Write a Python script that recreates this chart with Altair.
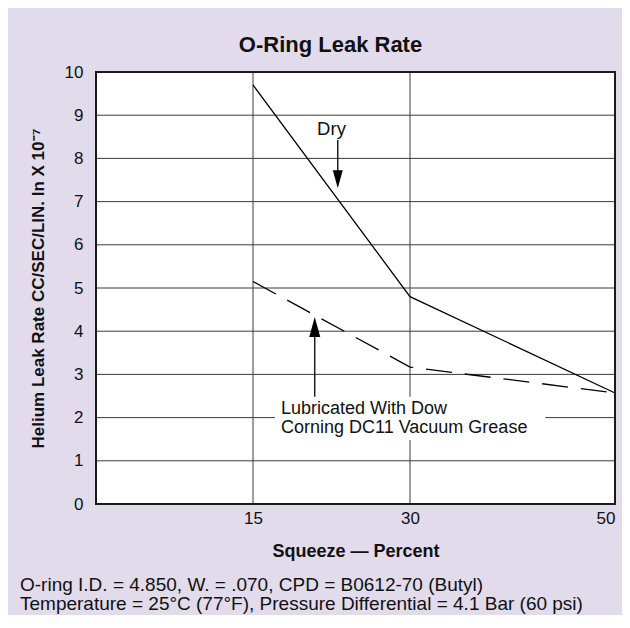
import altair as alt
import pandas as pd

# ---- data ----
squeeze = [15, 30, 50]
dry = [9.7, 4.8, 2.57]
lubricated = [5.15, 3.17, 2.57]

y_ticks = list(range(0, 11))
x_ticks = [15, 30, 50]
y_grid = list(range(1, 10))
x_grid = [15, 30]

dry_label = ["Dry"]
dry_label_x = [22.5]
dry_label_y = [8.68]
dry_arrow_x = [23.1]
dry_arrow_from = [8.43]
dry_arrow_to = [7.6]
dry_head_y = [7.52]

lub_lines = ["Lubricated With Dow", "Corning DC11 Vacuum Grease"]
lub_label_x = [17.67, 17.67]
lub_label_y = [2.20, 1.76]
lub_box_x = [17.1]
lub_box_x2 = [43.2]
lub_box_y = [1.48]
lub_box_y2 = [2.48]
lub_arrow_x = [20.9]
lub_arrow_from = [2.48]
lub_arrow_to = [4.0]
lub_head_y = [4.10]

title_text = "O-Ring Leak Rate"
x_title = "Squeeze \u2014 Percent"
y_title = "Helium Leak Rate CC/SEC/LIN. In X 10\u207b\u2077"
foot1 = "O-ring I.D. = 4.850, W. = .070, CPD = B0612-70 (Butyl)"
foot2 = "Temperature = 25\u00b0C (77\u00b0F), Pressure Differential = 4.1 Bar (60 psi)"

# ---- layout ----
W, H = 519, 432
PAD_L, PAD_T, PAD_R, PAD_B = 88, 64, 7, 111
FONT = "Liberation Sans"
INK = "#111111"
PANEL = "#e1dbec"

x_scale = alt.Scale(type="linear", domain=[0, 15, 30, 50], range=[0, 157, 314, 519], nice=False, zero=False)
y_scale = alt.Scale(type="linear", domain=[0, 10], nice=False, zero=False)

x_axis = alt.Axis(
    values=x_ticks, title=x_title, titleFontSize=18, titleFontWeight="bold", titleColor=INK,
    titleY=47, titleBaseline="middle", labelFontSize=17, labelColor=INK, labelPadding=6,
    labelFlush=True, labelOverlap=False, domain=False, ticks=False, grid=False, zindex=1,
)
y_axis = alt.Axis(
    values=y_ticks, title=y_title, titleFontSize=17, titleFontWeight="bold", titleColor=INK,
    titleAngle=270, titleBaseline="middle", titleAlign="center", titleX=-58, titleY=H / 2,
    labelFontSize=17, labelColor=INK, labelPadding=13, labelOverlap=False,
    domain=False, ticks=False, grid=False, zindex=1,
)

one = pd.DataFrame({"k": [0]})

plot_bg = alt.Chart(one).mark_rect(color="white").encode(
    x=alt.value(0), x2=alt.value(W), y=alt.value(0), y2=alt.value(H)
)
border = alt.Chart(one).mark_rect(fill="white", fillOpacity=0, stroke="#1a1a1a", strokeWidth=2).encode(
    x=alt.value(0), x2=alt.value(W), y=alt.value(0), y2=alt.value(H)
)

hgrid = alt.Chart(pd.DataFrame({"v": y_grid})).mark_rule(color="#3a3a3a", strokeWidth=1).encode(
    y=alt.Y("v:Q", scale=y_scale, axis=y_axis)
)
vgrid = alt.Chart(pd.DataFrame({"v": x_grid})).mark_rule(color="#3a3a3a", strokeWidth=1).encode(
    x=alt.X("v:Q", scale=x_scale, axis=x_axis)
)

box = alt.Chart(pd.DataFrame({"x": lub_box_x, "x2": lub_box_x2, "y": lub_box_y, "y2": lub_box_y2})).mark_rect(
    color="white"
).encode(
    x=alt.X("x:Q", scale=x_scale, axis=x_axis), x2="x2:Q",
    y=alt.Y("y:Q", scale=y_scale, axis=y_axis), y2="y2:Q",
)

dry_line = alt.Chart(pd.DataFrame({"s": squeeze, "r": dry})).mark_line(color="black", strokeWidth=1.3).encode(
    x=alt.X("s:Q", scale=x_scale, axis=x_axis), y=alt.Y("r:Q", scale=y_scale, axis=y_axis)
)
lub_line = alt.Chart(pd.DataFrame({"s": squeeze, "r": lubricated})).mark_line(
    color="black", strokeWidth=1.3, strokeDash=[26, 13]
).encode(
    x=alt.X("s:Q", scale=x_scale, axis=x_axis), y=alt.Y("r:Q", scale=y_scale, axis=y_axis)
)

dry_shaft = alt.Chart(pd.DataFrame({"x": dry_arrow_x, "y": dry_arrow_from, "y2": dry_arrow_to})).mark_rule(
    color="black", strokeWidth=1.3
).encode(x=alt.X("x:Q", scale=x_scale, axis=x_axis), y=alt.Y("y:Q", scale=y_scale, axis=y_axis), y2="y2:Q")
dry_head = alt.Chart(pd.DataFrame({"x": dry_arrow_x, "y": dry_head_y})).mark_point(
    shape="M-0.55,-1L0.55,-1L0,1Z", filled=True, color="black", opacity=1, size=324
).encode(x=alt.X("x:Q", scale=x_scale, axis=x_axis), y=alt.Y("y:Q", scale=y_scale, axis=y_axis))

lub_shaft = alt.Chart(pd.DataFrame({"x": lub_arrow_x, "y": lub_arrow_from, "y2": lub_arrow_to})).mark_rule(
    color="black", strokeWidth=1.3
).encode(x=alt.X("x:Q", scale=x_scale, axis=x_axis), y=alt.Y("y:Q", scale=y_scale, axis=y_axis), y2="y2:Q")
lub_head = alt.Chart(pd.DataFrame({"x": lub_arrow_x, "y": lub_head_y})).mark_point(
    shape="M-0.55,1L0.55,1L0,-1Z", filled=True, color="black", opacity=1, size=400
).encode(x=alt.X("x:Q", scale=x_scale, axis=x_axis), y=alt.Y("y:Q", scale=y_scale, axis=y_axis))

dry_text = alt.Chart(pd.DataFrame({"x": dry_label_x, "y": dry_label_y, "t": dry_label})).mark_text(
    font=FONT, fontSize=18.5, color=INK, align="center", baseline="middle"
).encode(x=alt.X("x:Q", scale=x_scale, axis=x_axis), y=alt.Y("y:Q", scale=y_scale, axis=y_axis), text="t:N")

lub_text = alt.Chart(pd.DataFrame({"x": lub_label_x, "y": lub_label_y, "t": lub_lines})).mark_text(
    font=FONT, fontSize=18, color=INK, align="left", baseline="middle"
).encode(x=alt.X("x:Q", scale=x_scale, axis=x_axis), y=alt.Y("y:Q", scale=y_scale, axis=y_axis), text="t:N")

foot_a = alt.Chart(one).mark_text(
    text=foot1, font=FONT, fontSize=19, color=INK, align="left", baseline="middle"
).encode(x=alt.value(20 - 8 - PAD_L), y=alt.value(585 - 8 - PAD_T))
foot_b = alt.Chart(one).mark_text(
    text=foot2, font=FONT, fontSize=19, color=INK, align="left", baseline="middle"
).encode(x=alt.value(20 - 8 - PAD_L), y=alt.value(604 - 8 - PAD_T))

chart = alt.layer(
    plot_bg, hgrid, vgrid, box, dry_line, lub_line,
    dry_shaft, dry_head, lub_shaft, lub_head, dry_text, lub_text, border, foot_a, foot_b,
).properties(
    width=W, height=H,
    autosize=alt.AutoSizeParams(type="none"),
    padding={"left": PAD_L, "top": PAD_T, "right": PAD_R, "bottom": PAD_B},
    title=alt.TitleParams(
        title_text, font=FONT, fontSize=22, fontWeight="bold", color=INK,
        anchor="middle", frame="group", dx=-25, offset=6,
    ),
    background=PANEL,
).configure(font=FONT).configure_view(stroke="transparent")

chart.save("out.html", embed_options={"renderer": "svg", "actions": False})
